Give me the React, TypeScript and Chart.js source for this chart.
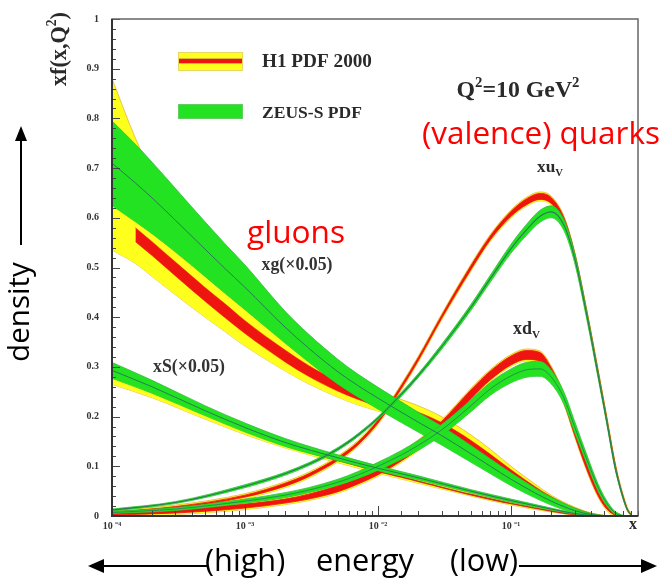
import { useEffect, useRef } from 'react';
import { Chart, registerables } from 'chart.js';

Chart.register(...registerables);

// ---------- axis ----------
const X_MIN = 1e-4;
const X_MAX = 0.9;
const Y_MIN = 0;
const Y_MAX = 1;
const Y_LABELS = ['0', '0.1', '0.2', '0.3', '0.4', '0.5', '0.6', '0.7', '0.8', '0.9', '1'];

// ---------- gluon xg(x0.05) ----------
const GLUON_X = [1e-4, 1.5e-4, 2e-4, 3e-4, 5e-4, 7e-4, 1e-3, 2e-3, 3e-3, 5e-3, 7e-3, 1e-2, 2e-2, 3e-2, 5e-2, 7e-2, 0.1, 0.15, 0.2, 0.3, 0.4, 0.5];
const H1_GLUON_OUTER_LO = [0.535, 0.508, 0.482, 0.445, 0.4, 0.372, 0.342, 0.292, 0.266, 0.239, 0.224, 0.211, 0.186, 0.167, 0.134, 0.108, 0.08, 0.05, 0.031, 0.011, 0.002, 0];
const H1_GLUON_OUTER_HI = [0.88, 0.76, 0.69, 0.61, 0.53, 0.48, 0.43, 0.35, 0.315, 0.283, 0.265, 0.25, 0.222, 0.2, 0.163, 0.134, 0.1, 0.065, 0.042, 0.018, 0.006, 0.001];
const H1_GLUON_INNER_X = [1.5e-4, 2e-4, 3e-4, 5e-4, 7e-4, 1e-3, 2e-3, 3e-3, 5e-3, 7e-3, 1e-2, 2e-2, 3e-2, 5e-2, 7e-2, 0.1, 0.15, 0.2, 0.3, 0.4, 0.5];
const H1_GLUON_INNER = [0.566, 0.538, 0.497, 0.446, 0.414, 0.38, 0.322, 0.292, 0.261, 0.244, 0.228, 0.201, 0.18, 0.145, 0.118, 0.088, 0.056, 0.036, 0.014, 0.004, 0.0005];
const H1_GLUON_INNER_ERR = [0.014, 0.014, 0.014, 0.014, 0.014, 0.013, 0.012, 0.011, 0.01, 0.009, 0.008, 0.008, 0.008, 0.007, 0.006, 0.005, 0.004, 0.003, 0.002, 0.001, 0.0005];
const ZEUS_GLUON = [0.71, 0.67, 0.64, 0.595, 0.537, 0.499, 0.46, 0.38, 0.338, 0.29, 0.263, 0.237, 0.189, 0.162, 0.125, 0.1, 0.074, 0.047, 0.03, 0.011, 0.003, 0];
const ZEUS_GLUON_ERR = [0.085, 0.078, 0.072, 0.064, 0.055, 0.05, 0.045, 0.032, 0.028, 0.025, 0.023, 0.022, 0.02, 0.019, 0.017, 0.015, 0.013, 0.01, 0.008, 0.005, 0.002, 0.001];

// ---------- sea xS(x0.05) ----------
const SEA_X = [1e-4, 2e-4, 5e-4, 1e-3, 2e-3, 5e-3, 1e-2, 2e-2, 5e-2, 0.1, 0.2, 0.3, 0.4, 0.5];
const H1_SEA = [0.283, 0.252, 0.205, 0.172, 0.143, 0.112, 0.09, 0.07, 0.043, 0.025, 0.01, 0.003, 0.0005, 0];
const H1_SEA_ERR = [0.018, 0.014, 0.01, 0.008, 0.006, 0.005, 0.004, 0.004, 0.003, 0.003, 0.002, 0.001, 0.0005, 0];
const ZEUS_SEA = [0.293, 0.26, 0.212, 0.178, 0.148, 0.117, 0.096, 0.077, 0.05, 0.031, 0.014, 0.005, 0.001, 0];
const ZEUS_SEA_ERR = [0.016, 0.013, 0.01, 0.009, 0.008, 0.006, 0.005, 0.004, 0.003, 0.003, 0.002, 0.001, 0.0005, 0];

// ---------- valence xuV, xdV ----------
const VAL_X = [1e-4, 3e-4, 1e-3, 2e-3, 3e-3, 5e-3, 7e-3, 1e-2, 1.5e-2, 2e-2, 3e-2, 5e-2, 7e-2, 0.1, 0.13, 0.165, 0.2, 0.25, 0.3, 0.37, 0.45, 0.52, 0.6, 0.65, 0.7, 0.75, 0.8];
const H1_UV = [0.006, 0.017, 0.04, 0.063, 0.082, 0.115, 0.145, 0.19, 0.26, 0.315, 0.4, 0.5, 0.56, 0.608, 0.632, 0.643, 0.635, 0.595, 0.525, 0.41, 0.29, 0.2, 0.108, 0.067, 0.036, 0.013, 0.002];
const H1_UV_ERR = [0.002, 0.002, 0.002, 0.003, 0.003, 0.003, 0.003, 0.003, 0.003, 0.003, 0.003, 0.004, 0.004, 0.005, 0.006, 0.006, 0.006, 0.005, 0.005, 0.004, 0.004, 0.003, 0.003, 0.002, 0.002, 0.001, 0.001];
const ZEUS_UV = [0.012, 0.027, 0.06, 0.085, 0.104, 0.135, 0.162, 0.197, 0.245, 0.282, 0.34, 0.42, 0.478, 0.538, 0.575, 0.603, 0.612, 0.585, 0.52, 0.405, 0.285, 0.195, 0.103, 0.064, 0.034, 0.012, 0.002];
const ZEUS_UV_ERR = [0.002, 0.002, 0.003, 0.003, 0.003, 0.003, 0.003, 0.003, 0.004, 0.004, 0.005, 0.006, 0.007, 0.009, 0.011, 0.012, 0.012, 0.011, 0.01, 0.008, 0.006, 0.005, 0.004, 0.003, 0.002, 0.001, 0];
const H1_DV = [0.004, 0.009, 0.02, 0.03, 0.039, 0.055, 0.07, 0.09, 0.118, 0.142, 0.182, 0.245, 0.283, 0.313, 0.324, 0.32, 0.29, 0.235, 0.17, 0.1, 0.045, 0.018, 0.004, 0.001, 0, 0, 0];
const H1_DV_ERR = [0.002, 0.003, 0.004, 0.004, 0.005, 0.006, 0.006, 0.007, 0.007, 0.008, 0.008, 0.009, 0.009, 0.009, 0.009, 0.009, 0.009, 0.008, 0.007, 0.006, 0.004, 0.003, 0.002, 0.001, 0, 0, 0];
const ZEUS_DV = [0.007, 0.014, 0.03, 0.042, 0.052, 0.068, 0.082, 0.1, 0.123, 0.142, 0.173, 0.222, 0.256, 0.282, 0.294, 0.296, 0.28, 0.237, 0.18, 0.115, 0.058, 0.027, 0.007, 0.002, 0.0005, 0, 0];
const ZEUS_DV_ERR = [0.002, 0.003, 0.004, 0.005, 0.005, 0.006, 0.007, 0.008, 0.009, 0.01, 0.011, 0.012, 0.013, 0.014, 0.015, 0.015, 0.014, 0.012, 0.011, 0.009, 0.007, 0.005, 0.003, 0.002, 0.001, 0, 0];

// H1 outer (yellow) band extends beyond the inner (red) band by this much on the valence/sea curves
const H1_OUTER_EXTRA = 0.003;

// ---------- style ----------
const YELLOW = '#ffff1e';
const YELLOW_EDGE = '#e0b830';
const RED = '#ee1410';
const GREEN = '#22e222';
const GREEN_EDGE = '#33bb3a';
const ZEUS_LINE = '#2a7a58';
const SERIF = '"Liberation Serif", "Times New Roman", serif';
const SANS = '"Open Sans", "DejaVu Sans", sans-serif';

type Part = [string, number];

const pts = (xs: number[], ys: number[]) => xs.map((x, i) => ({ x, y: ys[i] }));
const shift = (a: number[], e: number[], s: number, extra = 0) =>
  a.map((v, i) => Math.max(0, v + s * (e[i] + (e[i] > 0 ? extra : 0))));

function richWidth(ctx: CanvasRenderingContext2D, parts: Part[], size: number, family: string, weight: string) {
  let w = 0;
  for (const [t, l] of parts) {
    ctx.font = `${weight} ${l ? size * 0.62 : size}px ${family}`;
    w += ctx.measureText(t).width;
  }
  return w;
}

function drawRich(
  ctx: CanvasRenderingContext2D,
  parts: Part[],
  x: number,
  cy: number,
  o: { width?: number; size?: number; family: string; weight: string; color: string; align: 'left' | 'center'; base: number }
) {
  let size = o.size ?? 16;
  if (o.width) size = (100 * o.width) / richWidth(ctx, parts, 100, o.family, o.weight);
  const w = richWidth(ctx, parts, size, o.family, o.weight);
  let cx = o.align === 'center' ? x - w / 2 : x;
  const baseY = cy + size * o.base;
  ctx.textAlign = 'left';
  ctx.textBaseline = 'alphabetic';
  ctx.fillStyle = o.color;
  for (const [t, l] of parts) {
    ctx.font = `${o.weight} ${l ? size * 0.62 : size}px ${o.family}`;
    const dy = l === 1 ? -size * 0.42 : l === -1 ? size * 0.22 : 0;
    ctx.fillText(t, cx, baseY + dy);
    cx += ctx.measureText(t).width;
  }
  return size;
}

function arrowHead(ctx: CanvasRenderingContext2D, tx: number, ty: number, dx: number, dy: number, len: number, half: number) {
  const bx = tx - dx * len;
  const by = ty - dy * len;
  ctx.beginPath();
  ctx.moveTo(tx, ty);
  ctx.lineTo(bx - dy * half, by + dx * half);
  ctx.lineTo(bx + dy * half, by - dx * half);
  ctx.closePath();
  ctx.fill();
}

const decorPlugin = {
  id: 'decor',
  afterDatasetsDraw(chart: any) {
    const { ctx, chartArea: a, scales } = chart;
    const xs = scales.x;
    const ys = scales.y;
    ctx.save();
    ctx.strokeStyle = '#444';
    ctx.lineWidth = 1;
    ctx.beginPath();
    ys.ticks.forEach((t: any) => {
      const py = Math.round(ys.getPixelForValue(t.value)) + 0.5;
      const major = Math.round(t.value * 50) % 5 === 0;
      ctx.moveTo(a.left, py);
      ctx.lineTo(a.left + (major ? 8 : 4), py);
    });
    xs.ticks.forEach((t: any) => {
      const px = Math.round(xs.getPixelForValue(t.value)) + 0.5;
      const e = Math.log10(t.value);
      const major = Math.abs(e - Math.round(e)) < 1e-6;
      ctx.moveTo(px, a.bottom);
      ctx.lineTo(px, a.bottom - (major ? 10 : 5));
    });
    ctx.stroke();
    // frame
    ctx.strokeStyle = '#666';
    ctx.lineWidth = 1.5;
    ctx.strokeRect(a.left, a.top, a.right - a.left, a.bottom - a.top);
    ctx.strokeStyle = '#333';
    ctx.lineWidth = 2;
    ctx.beginPath();
    ctx.moveTo(a.left, a.top);
    ctx.lineTo(a.left, a.bottom);
    ctx.lineTo(a.right, a.bottom);
    ctx.stroke();
    ctx.restore();
  },
  afterDraw(chart: any) {
    const { ctx } = chart;
    ctx.save();
    const dark = '#2a2a2a';
    const serifBold = { family: SERIF, weight: 'bold', color: dark };

    // legend
    ctx.fillStyle = YELLOW;
    ctx.fillRect(178, 52, 65, 19);
    ctx.fillStyle = RED;
    ctx.fillRect(178, 59, 65, 4);
    ctx.strokeStyle = YELLOW_EDGE;
    ctx.lineWidth = 1;
    ctx.beginPath();
    ctx.moveTo(178, 58.5); ctx.lineTo(243, 58.5);
    ctx.moveTo(178, 63.5); ctx.lineTo(243, 63.5);
    ctx.stroke();
    ctx.strokeStyle = '#e8d860';
    ctx.strokeRect(178.5, 52.5, 64, 18);
    ctx.fillStyle = GREEN;
    ctx.fillRect(178, 104, 65, 15);
    ctx.strokeStyle = '#5fcf5f';
    ctx.strokeRect(178.5, 104.5, 64, 14);

    drawRich(ctx, [['H1 PDF 2000', 0]], 262, 61, { ...serifBold, width: 110, align: 'left', base: 0.33 });
    drawRich(ctx, [['ZEUS-S PDF', 0]], 262, 112, { ...serifBold, width: 100, align: 'left', base: 0.33 });
    drawRich(ctx, [['Q', 0], ['2', 1], ['=10 GeV', 0], ['2', 1]], 518, 89, { ...serifBold, width: 123, align: 'center', base: 0.33 });

    // curve labels
    drawRich(ctx, [['xu', 0], ['V', -1]], 537, 168, { ...serifBold, width: 26, align: 'left', base: 0.23 });
    drawRich(ctx, [['xd', 0], ['V', -1]], 513, 330, { ...serifBold, width: 27, align: 'left', base: 0.23 });
    drawRich(ctx, [['xg(\u00d70.05)', 0]], 297, 265, { ...serifBold, color: '#333', width: 71, align: 'center', base: 0.26 });
    drawRich(ctx, [['xS(\u00d70.05)', 0]], 189, 367, { ...serifBold, color: '#333', width: 72, align: 'center', base: 0.26 });
    drawRich(ctx, [['x', 0]], 633, 525, { ...serifBold, size: 16, align: 'center', base: 0.23 });

    // red annotations
    const redSans = { family: SANS, weight: 'normal', color: '#ff0000' };
    drawRich(ctx, [['(valence) quarks', 0]], 541, 136, { ...redSans, width: 238, align: 'center', base: 0.26 });
    drawRich(ctx, [['gluons', 0]], 296, 235, { ...redSans, width: 98, align: 'center', base: 0.26 });

    // y-axis title (rotated)
    ctx.save();
    ctx.translate(60, 49);
    ctx.rotate(-Math.PI / 2);
    drawRich(ctx, [['xf(x,Q', 0], ['2', 1], [')', 0]], 0, 0, { ...serifBold, width: 74, align: 'center', base: 0.26 });
    ctx.restore();

    // density + arrow
    ctx.save();
    ctx.translate(21, 312);
    ctx.rotate(-Math.PI / 2);
    drawRich(ctx, [['density', 0]], 0, 0, { family: SANS, weight: 'normal', color: '#000', width: 100, align: 'center', base: 0.26 });
    ctx.restore();
    ctx.strokeStyle = '#000';
    ctx.fillStyle = '#000';
    ctx.lineWidth = 2;
    ctx.beginPath();
    ctx.moveTo(21, 245);
    ctx.lineTo(21, 138);
    ctx.stroke();
    arrowHead(ctx, 21, 126, 0, -1, 15, 6);

    // energy arrows
    const eSize = drawRich(ctx, [['energy', 0]], 316, 563, { family: SANS, weight: 'normal', color: '#000', width: 98, align: 'left', base: 0.26 });
    drawRich(ctx, [['(high)', 0]], 205, 563, { family: SANS, weight: 'normal', color: '#000', size: eSize, align: 'left', base: 0.26 });
    drawRich(ctx, [['(low)', 0]], 450, 563, { family: SANS, weight: 'normal', color: '#000', size: eSize, align: 'left', base: 0.26 });
    ctx.strokeStyle = '#000';
    ctx.fillStyle = '#000';
    ctx.lineWidth = 2;
    ctx.beginPath();
    ctx.moveTo(207, 566);
    ctx.lineTo(100, 566);
    ctx.moveTo(519, 566);
    ctx.lineTo(645, 566);
    ctx.stroke();
    arrowHead(ctx, 88, 566, -1, 0, 16, 7);
    arrowHead(ctx, 657, 566, 1, 0, 16, 7);

    ctx.restore();
  },
};

function buildDatasets() {
  const layers: any[] = [];
  const band = (xs: number[], lo: number[], hi: number[], fill: string, edge: string, edgeW: number) => {
    layers.push({ data: pts(xs, lo), borderColor: edge, borderWidth: edgeW, fill: false });
    layers.push({ data: pts(xs, hi), borderColor: edge, borderWidth: edgeW, fill: '-1', backgroundColor: fill });
  };
  const line = (xs: number[], ys: number[], color: string, w: number) => {
    layers.push({ data: pts(xs, ys), borderColor: color, borderWidth: w, fill: false });
  };

  // H1 outer (yellow)
  band(GLUON_X, H1_GLUON_OUTER_LO, H1_GLUON_OUTER_HI, YELLOW, YELLOW_EDGE, 0.8);
  band(SEA_X, shift(H1_SEA, H1_SEA_ERR, -1), shift(H1_SEA, H1_SEA_ERR, 1), YELLOW, YELLOW_EDGE, 0.8);
  band(VAL_X, shift(H1_UV, H1_UV_ERR, -1, H1_OUTER_EXTRA), shift(H1_UV, H1_UV_ERR, 1, H1_OUTER_EXTRA), YELLOW, YELLOW_EDGE, 0.8);
  band(VAL_X, shift(H1_DV, H1_DV_ERR, -1, H1_OUTER_EXTRA), shift(H1_DV, H1_DV_ERR, 1, H1_OUTER_EXTRA), YELLOW, YELLOW_EDGE, 0.8);
  // H1 inner (red)
  band(H1_GLUON_INNER_X, shift(H1_GLUON_INNER, H1_GLUON_INNER_ERR, -1), shift(H1_GLUON_INNER, H1_GLUON_INNER_ERR, 1), RED, RED, 0.5);
  line(SEA_X, H1_SEA, '#c8321e', 1.6);
  band(VAL_X, shift(H1_UV, H1_UV_ERR, -1), shift(H1_UV, H1_UV_ERR, 1), RED, RED, 0.8);
  band(VAL_X, shift(H1_DV, H1_DV_ERR, -1), shift(H1_DV, H1_DV_ERR, 1), RED, RED, 0.8);
  // ZEUS (green)
  band(GLUON_X, shift(ZEUS_GLUON, ZEUS_GLUON_ERR, -1), shift(ZEUS_GLUON, ZEUS_GLUON_ERR, 1), GREEN, GREEN_EDGE, 0.8);
  band(SEA_X, shift(ZEUS_SEA, ZEUS_SEA_ERR, -1), shift(ZEUS_SEA, ZEUS_SEA_ERR, 1), GREEN, GREEN_EDGE, 0.8);
  band(VAL_X, shift(ZEUS_UV, ZEUS_UV_ERR, -1), shift(ZEUS_UV, ZEUS_UV_ERR, 1), GREEN, GREEN_EDGE, 0.8);
  band(VAL_X, shift(ZEUS_DV, ZEUS_DV_ERR, -1), shift(ZEUS_DV, ZEUS_DV_ERR, 1), GREEN, GREEN_EDGE, 0.8);
  // ZEUS central lines
  line(GLUON_X, ZEUS_GLUON, ZEUS_LINE, 1);
  line(SEA_X, ZEUS_SEA, ZEUS_LINE, 1);
  line(VAL_X, ZEUS_UV, ZEUS_LINE, 1.1);
  line(VAL_X, ZEUS_DV, ZEUS_LINE, 0.8);

  const n = layers.length;
  return layers.map((d, i) => ({
    ...d,
    order: n - i,
    pointRadius: 0,
    cubicInterpolationMode: 'monotone',
  }));
}

const supDigits: Record<string, string> = { '-': '\u207b', '0': '\u2070', '1': '\u00b9', '2': '\u00b2', '3': '\u00b3', '4': '\u2074', '5': '\u2075' };
const supStr = (s: string) => s.split('').map((c) => supDigits[c] ?? c).join('');

export default function App() {
  const ref = useRef<HTMLCanvasElement>(null);
  useEffect(() => {
    const chart = new Chart(ref.current as HTMLCanvasElement, {
      type: 'line',
      data: { datasets: buildDatasets() as any },
      options: {
        animation: false,
        responsive: false,
        devicePixelRatio: 1,
        layout: { padding: { left: 0, top: 12, right: 27, bottom: 0 } },
        plugins: { legend: { display: false }, tooltip: { enabled: false } },
        scales: {
          x: {
            type: 'logarithmic',
            min: X_MIN,
            max: X_MAX,
            afterFit: (s: any) => {
              s.height = 65;
            },
            grid: { display: false, drawTicks: false },
            border: { display: false },
            ticks: {
              autoSkip: false,
              maxRotation: 0,
              padding: 4,
              color: '#333',
              font: { family: SERIF, size: 10, weight: 'bold' },
              callback: (v: any) => {
                const e = Math.log10(Number(v));
                return Math.abs(e - Math.round(e)) < 1e-6 && Math.round(e) < 0 ? '10 ' + supStr(String(Math.round(e))) : '';
              },
            },
          },
          y: {
            type: 'linear',
            min: Y_MIN,
            max: Y_MAX,
            afterFit: (s: any) => {
              s.width = 112;
            },
            grid: { display: false, drawTicks: false },
            border: { display: false },
            ticks: {
              stepSize: 0.02,
              maxTicksLimit: 100,
              autoSkip: false,
              padding: 13,
              color: '#333',
              font: { family: SERIF, size: 10, weight: 'bold' },
              callback: (v: any) => {
                const k = Math.round(Number(v) * 50);
                return k % 5 === 0 ? Y_LABELS[k / 5] : '';
              },
            },
          },
        },
      } as any,
      plugins: [decorPlugin],
    });
    return () => chart.destroy();
  }, []);
  return (
    <div style={{ position: 'fixed', left: 0, top: 0, width: 665, height: 581, background: '#fff' }}>
      <canvas ref={ref} width={665} height={581} style={{ display: 'block' }} />
    </div>
  );
}
